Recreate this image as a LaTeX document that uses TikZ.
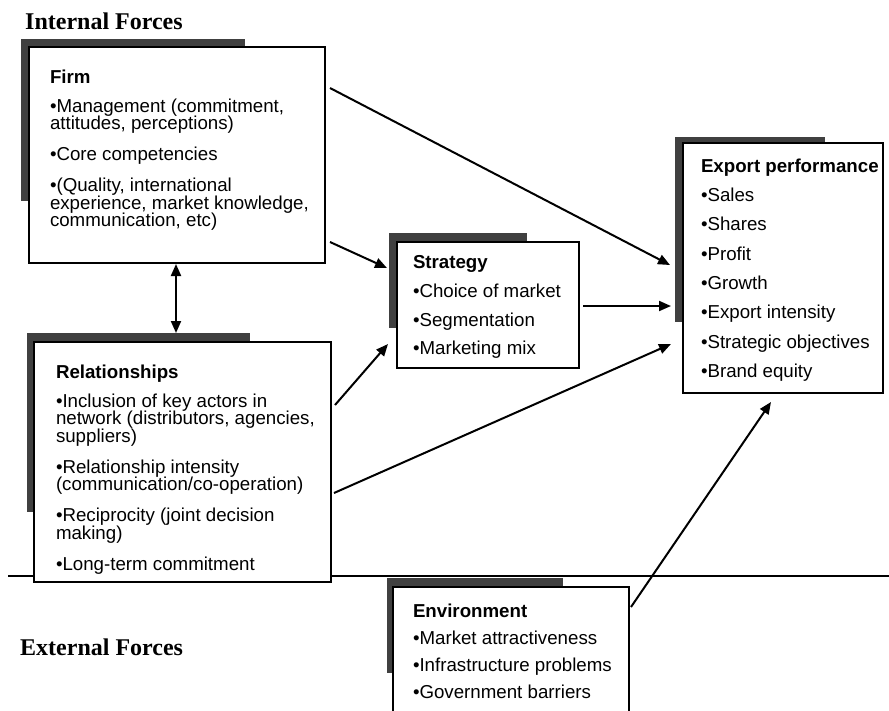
\documentclass[tikz,border=0pt]{standalone}
\usepackage{fontspec}
\setmainfont{Liberation Sans}
\newfontfamily\titlefont{Liberation Serif}
\usetikzlibrary{arrows.meta,calc}
% let tight baselines stand even when descenders meet ascenders
\newcommand\tightlines{\lineskiplimit=-40pt\relax}
\tikzset{
  box/.style={draw=black, line width=2.4pt, fill=white, rectangle, inner sep=0pt, outer sep=0pt, anchor=north west},
  shadestrip/.style={fill=black!75},
  body/.style={anchor=north west, inner sep=0pt, outer sep=0pt, align=left,
    font={\fontsize{18.7}{17.5}\selectfont\tightlines}},
  link/.style={line width=2pt, -{Triangle[length=12pt,width=10pt]}},
  bothlink/.style={line width=2pt, {Triangle[length=12pt,width=10pt]}-{Triangle[length=12pt,width=10pt]}},
  forces/.style={anchor=base west, inner sep=0pt, font={\titlefont\bfseries\fontsize{24}{28}\selectfont}},
}
\begin{document}
\begin{tikzpicture}[x=1pt, y=-1pt]
\useasboundingbox (0,0) rectangle (889,710);
\clip (0,0) rectangle (889,710);

% section titles and the dividing rule
\node[forces] (internal) at (25,29) {Internal Forces};
\node[forces] (external) at (20,655) {External Forces};
\draw[line width=2.8pt] (8,576) -- (889,576);

% shadow strips behind the boxes
\fill[shadestrip] (21,39) rectangle +(224,162);
\fill[shadestrip] (27,333) rectangle +(223,179);
\fill[shadestrip] (389,233) rectangle +(138,95);
\fill[shadestrip] (675,137) rectangle +(150,185);
\fill[shadestrip] (387,578) rectangle +(176,95);

% boxes
\node[box, minimum width=296pt, minimum height=216pt] (firm) at (29,47) {};
\node[box, minimum width=297pt, minimum height=240pt] (rel) at (34,342) {};
\node[box, minimum width=182pt, minimum height=126pt] (strat) at (397,242) {};
\node[box, minimum width=200pt, minimum height=250pt] (perf) at (683,143) {};
\node[box, minimum width=236pt, minimum height=150pt] (env) at (393,587) {};

% box contents
\node[body] (firmtext) at (50,69.7) {\textbf{Firm}\\[11.5pt]
•Management (commitment,\\
attitudes, perceptions)\\[13.5pt]
•Core competencies\\[13.5pt]
•(Quality, international\\
experience, market knowledge,\\
communication, etc)};

\node[body] (reltext) at (56,364.7) {\textbf{Relationships}\\[11.5pt]
•Inclusion of key actors in\\
network (distributors, agencies,\\
suppliers)\\[13.5pt]
•Relationship intensity\\
(communication/co-operation)\\[13.5pt]
•Reciprocity (joint decision\\
making)\\[13.5pt]
•Long-term commitment};

\node[body] (strattext) at (413,255.7) {\textbf{Strategy}\\[11.2pt]
•Choice of market\\[11.2pt]
•Segmentation\\[11.2pt]
•Marketing mix};

\node[body] (perftext) at (701,158.7) {\textbf{Export performance}\\[11.8pt]
•Sales\\[11.8pt]
•Shares\\[11.8pt]
•Profit\\[11.8pt]
•Growth\\[11.8pt]
•Export intensity\\[11.8pt]
•Strategic objectives\\[11.8pt]
•Brand equity};

\node[body] (envtext) at (413,603.7) {\textbf{Environment}\\[9.5pt]
•Market attractiveness\\[9.5pt]
•Infrastructure problems\\[9.5pt]
•Government barriers};

% connectors
\draw[link] ($(firm.north east)+(5,41)$) -- ($(perf.north west)+(-13,122)$);
\draw[link] ($(firm.north east)+(5,195)$) -- ($(strat.north west)+(-10,26)$);
\draw[link] ($(rel.north east)+(4,63)$) -- ($(strat.north west)+(-9,102)$);
\draw[link] ($(rel.north east)+(3,151)$) -- ($(perf.north west)+(-12,201)$);
\draw[link] ($(strat.north east)+(4,64)$) -- ($(perf.north west)+(-12,163)$);
\draw[link] ($(env.north east)+(2,20)$) -- ($(perf.south west)+(88,9)$);
\draw[bothlink] ($(firm.south west)+(147,1)$) -- ($(rel.north west)+(142,-9)$);
\end{tikzpicture}
\end{document}
